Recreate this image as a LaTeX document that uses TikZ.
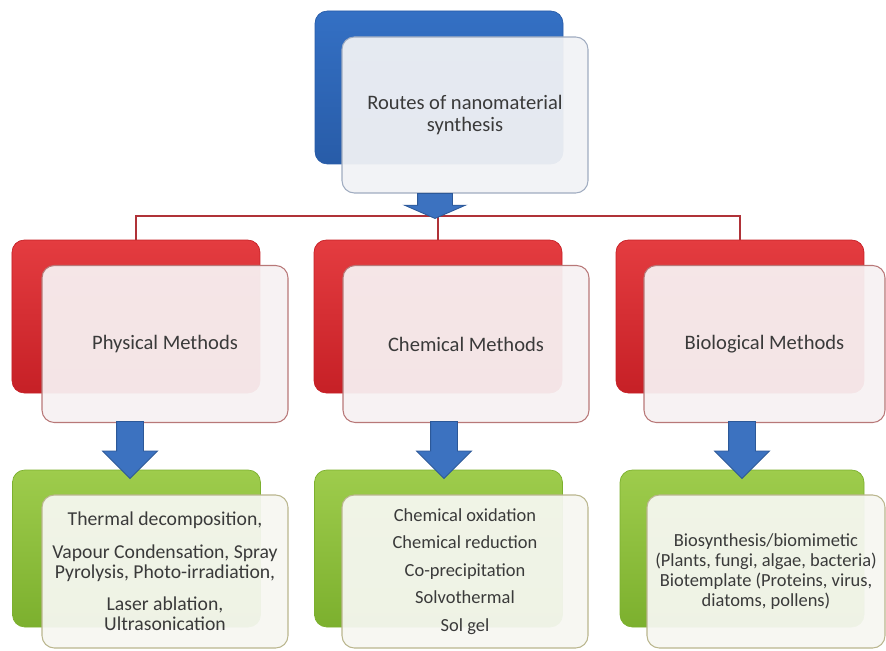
\documentclass[tikz,border=0pt]{standalone}
\usepackage{fontspec}
\setmainfont{Carlito}
\usepackage{xcolor}
\usetikzlibrary{shapes.arrows, positioning}

\definecolor{bluetop}{RGB}{52,112,196}
\definecolor{bluebot}{RGB}{40,92,168}
\definecolor{redtop}{RGB}{228,60,64}
\definecolor{redbot}{RGB}{198,32,38}
\definecolor{greentop}{RGB}{158,204,76}
\definecolor{greenbot}{RGB}{124,176,46}
\definecolor{arrowblue}{RGB}{60,114,192}
\definecolor{arrowedge}{RGB}{44,88,152}
\definecolor{busred}{RGB}{176,50,56}
\definecolor{txtgray}{RGB}{58,58,58}

\begin{document}
\begin{tikzpicture}[
    every node/.style={font=\fontsize{11.7}{12}\selectfont},
    backbox/.style={rectangle, rounded corners=7pt, minimum width=4.96cm, minimum height=3.06cm},
    blueback/.style={backbox, top color=bluetop, bottom color=bluebot, draw=bluebot},
    redback/.style={backbox, top color=redtop, bottom color=redbot, draw=redbot},
    greenback/.style={backbox, minimum height=3.14cm, top color=greentop, bottom color=greenbot, draw=greenbot},
    frontbox/.style={rectangle, rounded corners=7pt, line width=0.6pt, minimum width=4.92cm, minimum height=3.14cm, fill opacity=0.94, text opacity=1, align=center, text=txtgray},
    bluefront/.style={frontbox, fill={rgb,255:red,241;green,242;blue,245}, draw={rgb,255:red,160;green,172;blue,192}},
    redfront/.style={frontbox, fill={rgb,255:red,247;green,241;blue,242}, draw={rgb,255:red,184;green,120;blue,120}},
    greenfront/.style={frontbox, minimum height=3.06cm, fill={rgb,255:red,246;green,247;blue,241}, draw={rgb,255:red,186;green,182;blue,142}},
    fatarrow/.style={single arrow, draw=arrowedge, line width=0.5pt, fill=arrowblue, rotate=-90, anchor=tail, inner xsep=0pt, inner ysep=0.26cm, minimum height=1.14cm, single arrow head extend=0.28cm},
    busline/.style={busred, line width=0.9pt}
]
\useasboundingbox (0,0) rectangle (17.72,-13.02);

% -- top: routes --
\node[blueback] (topback) at (8.78,-1.75) {};
\node[bluefront, minimum height=3.12cm] (topfront) at (9.30,-2.30) {Routes of nanomaterial\\synthesis};

% -- second row: method boxes --
\node[redback] (phyback)  at (2.72,-6.33) {};
\node[redback] (chemback) at (8.76,-6.33) {};
\node[redback] (bioback)  at (14.80,-6.33) {};

\node[redfront] (phyfront)  at (3.30,-6.88) {Physical Methods};
\node[redfront] (chemfront) at (9.32,-6.88) {Chemical Methods};
\node[redfront, minimum width=4.82cm] (biofront) at (15.29,-6.88) {Biological Methods};

% -- red bus from the top arrow --
\coordinate (bus) at (8.76,-4.32);
\draw[busline] (phyback.north) |- (bus) -| (bioback.north);
\draw[busline] (bus) -- (chemback.north);

% -- third row: techniques --
\node[greenback] (phygreen)  at (2.73,-10.97) {};
\node[greenback] (chemgreen) at (8.77,-10.97) {};
\node[greenback, minimum width=4.88cm] (biogreen) at (14.84,-10.97) {};

\node[greenfront, font=\fontsize{11.2}{11.4}\selectfont] (phylist) at (3.30,-11.43)
  {Thermal decomposition,\\[7pt]
   Vapour Condensation, Spray\\Pyrolysis, Photo-irradiation,\\[7pt]
   Laser ablation,\\Ultrasonication};
\node[greenfront, font=\fontsize{10.5}{15.6}\selectfont] (chemlist) at (9.30,-11.43)
  {Chemical oxidation\\Chemical reduction\\Co-precipitation\\Solvothermal\\Sol gel};
\node[greenfront, minimum width=4.76cm, font=\fontsize{10.5}{11.3}\selectfont] (biolist) at (15.32,-11.43)
  {Biosynthesis/biomimetic\\(Plants, fungi, algae, bacteria)\\Biotemplate (Proteins, virus,\\diatoms, pollens)};

% -- block arrows --
\node[fatarrow, minimum height=0.50cm, inner ysep=0.34cm, single arrow head extend=0.26cm, single arrow tip angle=133] (toparrow) at (8.70,-3.86) {};
\node[fatarrow] (phyarrow)  at (2.60,-8.42) {};
\node[fatarrow] (chemarrow) at (8.88,-8.42) {};
\node[fatarrow] (bioarrow)  at (14.84,-8.42) {};

\end{tikzpicture}
\end{document}
